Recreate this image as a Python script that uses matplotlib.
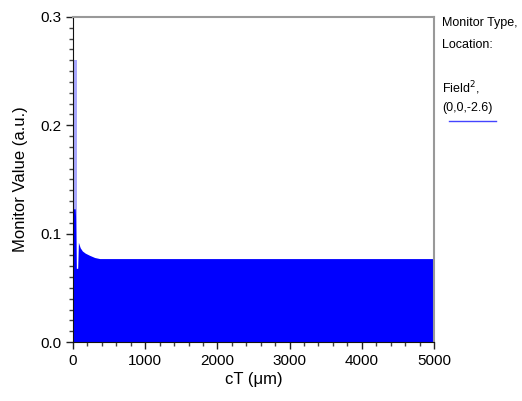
"""Monitor value vs cT — filled field envelope with a side legend panel."""

import matplotlib
matplotlib.use("Agg")
import matplotlib.pyplot as plt
from matplotlib.ticker import MultipleLocator

plt.rcParams["font.family"] = ["Liberation Sans", "DejaVu Sans"]

# ---------------------------------------------------------------------------
# Data (envelope of the rapidly oscillating monitor signal)
# ---------------------------------------------------------------------------
ct_um = [0, 30, 35, 45, 55, 65, 75, 85, 100, 130, 170, 230, 300, 370, 5000]
monitor_value = [0.123, 0.123, 0.116, 0.068, 0.068, 0.068, 0.092,
                 0.090, 0.087, 0.084, 0.082, 0.080, 0.078, 0.077, 0.077]

# narrow initial peak, only partly filled by the oscillation
peak_ct_um = [10, 50]
peak_value = [0.26, 0.26]

legend_lines = ["Monitor Type,", "Location:", "", "Field$^2$,", "(0,0,-2.6)"]

# ---------------------------------------------------------------------------
# Figure
# ---------------------------------------------------------------------------
fig = plt.figure(figsize=(5.22, 4.01), dpi=100)
ax = fig.add_axes([73 / 522, 59 / 401, (434 - 73) / 522, (342 - 17) / 401])

ax.fill_between(peak_ct_um, 0, peak_value, color="#a8a8ff", linewidth=0)
ax.fill_between(ct_um, 0, monitor_value, color="#0000ff", linewidth=0)

ax.set_xlim(0, 5000)
ax.set_ylim(0, 0.3)
ax.xaxis.set_major_locator(MultipleLocator(1000))
ax.xaxis.set_minor_locator(MultipleLocator(200))
ax.yaxis.set_major_locator(MultipleLocator(0.1))
ax.yaxis.set_minor_locator(MultipleLocator(0.01))
ax.yaxis.set_major_formatter(lambda v, pos: f"{v:.1f}")
ax.tick_params(which="major", length=5, width=1, labelsize=11, color="#222222")
ax.tick_params(which="minor", length=3, width=1, color="#444444")

for side in ("left", "bottom"):
    ax.spines[side].set_color("#111111")
for side in ("top", "right"):
    ax.spines[side].set_color("#999999")
    ax.spines[side].set_linewidth(1.5)

ax.set_xlabel("cT (\u03bcm)", fontsize=12, labelpad=3)
ax.set_ylabel("Monitor Value (a.u.)", fontsize=12, labelpad=9)

# side legend
y_px = [23, 45, 66, 88, 108]
for txt, y in zip(legend_lines, y_px):
    if txt:
        fig.text(442 / 522, 1 - y / 401, txt, fontsize=9, va="center", ha="left")
fig.add_artist(plt.Line2D([449 / 522, 496 / 522], [1 - 121 / 401] * 2,
                          color="#4444ff", linewidth=1))

fig.savefig("out.png", dpi=100)
plt.close(fig)
